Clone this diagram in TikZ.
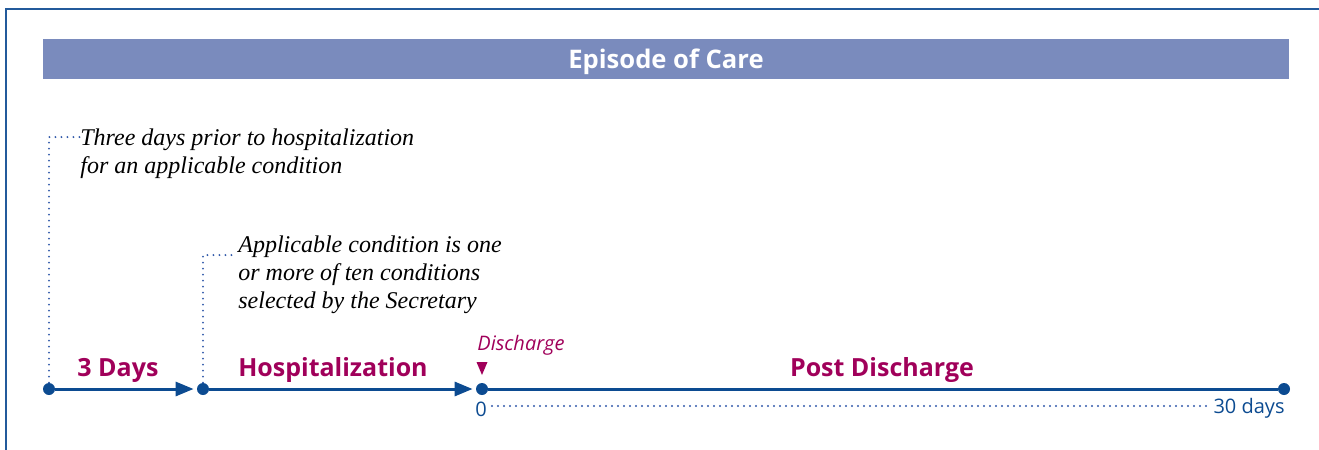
\documentclass[tikz,border=0pt]{standalone}
\usepackage{fontspec}
\setmainfont{Liberation Serif}
\setsansfont{Open Sans}
\usetikzlibrary{arrows.meta,positioning,calc}
\definecolor{frameblue}{RGB}{35,90,155}
\definecolor{lineblue}{RGB}{12,75,145}
\definecolor{dotblue}{RGB}{50,90,170}
\definecolor{bannerblue}{RGB}{122,139,189}
\definecolor{phasered}{RGB}{160,0,90}
\tikzstyle{timeline}=[draw=lineblue,line width=1.5pt]
\tikzstyle{period}=[timeline,arrows={-{Triangle[length=9pt,width=7pt]}},shorten >=1.5pt]
\tikzstyle{tick}=[circle,fill=lineblue,inner sep=0pt,minimum size=6pt]
\tikzstyle{phase}=[text=phasered,font=\sffamily\bfseries\fontsize{12.5}{15}\selectfont]
\tikzstyle{note}=[anchor=north west,inner sep=0pt,align=left,font=\itshape\fontsize{12}{14}\selectfont]
\tikzstyle{leader}=[draw=dotblue,line width=1.1pt,line cap=round,dash pattern=on 0pt off 3pt]
\tikzstyle{dayslabel}=[text=lineblue,inner sep=0pt,font=\sffamily\fontsize{10}{12}\selectfont]

\begin{document}
\begin{tikzpicture}[x=0.5pt,y=-0.5pt]
    \useasboundingbox (0,0) rectangle (1319,450);
    \draw[draw=frameblue,line width=1pt] (6,450) -- (6,9) -- (1319,9);

    \node[fill=bannerblue,minimum width=623pt,minimum height=20pt,inner sep=0pt,text depth=0pt,
          text=white,font=\sffamily\bfseries\fontsize{12.8}{14}\selectfont] (banner) at (666,59) {Episode of Care};

    \node[tick] (start) at (49,389) {};
    \node[tick] (admit) at (203,389) {};
    \node[tick] (discharge) at (482,389) {};
    \node[tick] (end) at (1284,389) {};

    \draw[period] (start) -- (admit);
    \draw[period] (admit) -- (discharge);
    \draw[timeline] (discharge) -- (end);

    \node[phase] (days) at (118,370) {3 Days};
    \node[phase] (hosp) at (333,370) {Hospitalization};
    \node[phase] (post) at (882,370) {Post Discharge};

    \node[note] (prior) at (80,128) {Three days prior to hospitalization\\for an applicable condition};
    \coordinate (priorin) at (80,137);
    \draw[leader] (start.north) |- (priorin);

    \node[note] (cond) at (238,235) {Applicable condition is one\\or more of ten conditions\\selected by the Secretary};
    \coordinate (condin) at (236,255);
    \draw[leader] (admit.north) |- (condin);

    \node[text=phasered,font=\sffamily\itshape\fontsize{10}{12}\selectfont] (dischlabel) at (521,345) {Discharge};
    \fill[phasered] ($(discharge)+(-5.5,-27)$) -- ($(discharge)+(5.5,-27)$) -- ($(discharge)+(0,-14)$) -- cycle;

    \node[dayslabel] (zero) at (481,409) {0};
    \node[dayslabel,anchor=east] (thirty) at (1285,408) {30 days};
    \coordinate (dotsfrom) at (492,406);
    \coordinate (dotsto) at (1208,406);
    \draw[leader] (dotsfrom) -- (dotsto);
\end{tikzpicture}
\end{document}
